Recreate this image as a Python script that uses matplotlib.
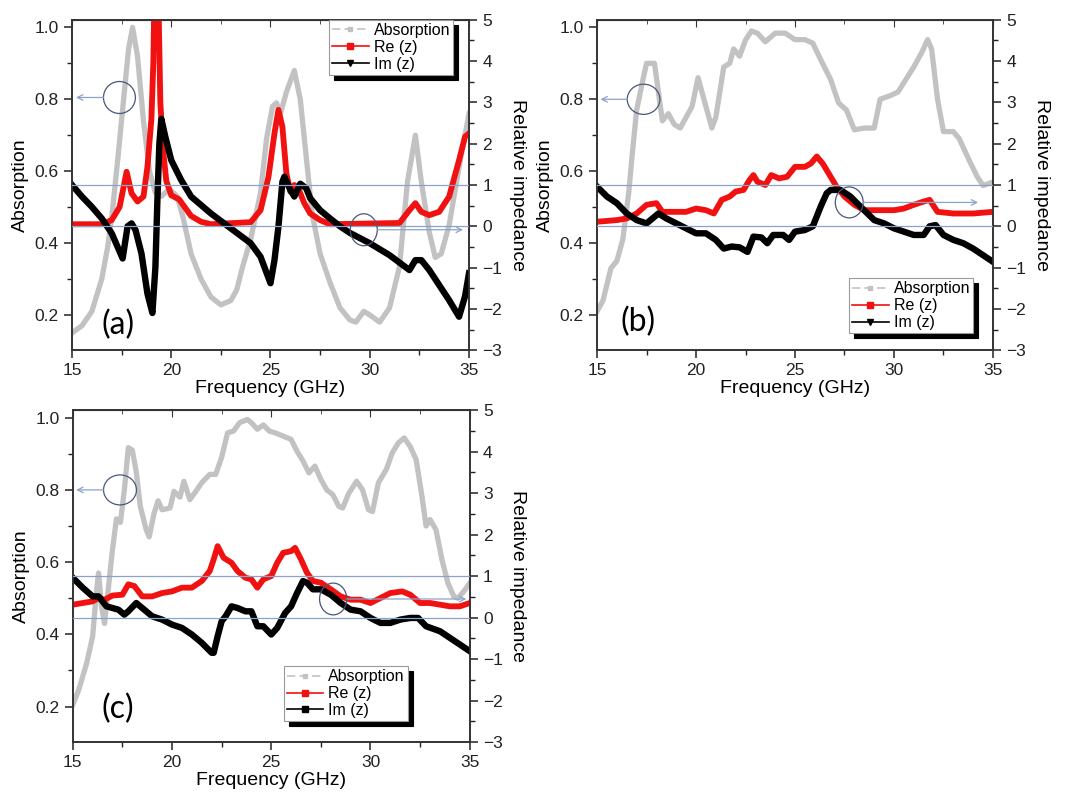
import matplotlib
matplotlib.use("Agg")
import matplotlib.pyplot as plt
from matplotlib.lines import Line2D
from matplotlib.patches import Ellipse
from matplotlib.ticker import MultipleLocator

plt.rcParams['font.family'] = ['Liberation Sans', 'DejaVu Sans']

# ---- panel (a) ----
fa_abs = [15.0, 15.5, 16.0, 16.5, 16.8, 17.0, 17.3, 17.6, 17.85, 18.05, 18.3, 18.6, 18.9, 19.2,
          19.5, 19.9, 20.3, 20.6, 21.0, 21.5, 22.0, 22.5, 23.0, 23.3, 23.6, 24.0, 24.5, 24.8,
          25.1, 25.3, 25.5, 25.8, 26.2, 26.5, 26.8, 27.1, 27.5, 28.0, 28.5, 29.0, 29.3, 29.7,
          30.0, 30.5, 31.0, 31.5, 31.9, 32.3, 32.6, 33.0, 33.3, 33.6, 34.0, 34.5, 35.0]
a_abs = [0.15, 0.17, 0.21, 0.30, 0.39, 0.47, 0.63, 0.80, 0.94, 1.0, 0.92, 0.74, 0.60, 0.54,
         0.53, 0.55, 0.53, 0.47, 0.37, 0.30, 0.25, 0.228, 0.24, 0.27, 0.335, 0.41, 0.54, 0.69,
         0.78, 0.79, 0.76, 0.82, 0.88, 0.80, 0.64, 0.48, 0.37, 0.29, 0.22, 0.186, 0.18, 0.21,
         0.20, 0.18, 0.22, 0.335, 0.57, 0.70, 0.57, 0.43, 0.36, 0.37, 0.45, 0.61, 0.76]

fa_re = [15.0, 16.5, 17.0, 17.4, 17.75, 18.0, 18.3, 18.6, 18.8, 19.0, 19.1, 19.15, 19.35, 19.45,
         19.6, 19.75, 20.0, 20.4, 20.7, 21.0, 21.5, 22.0, 24.0, 24.5, 24.9, 25.2, 25.4, 25.6,
         25.8, 26.0, 26.2, 26.4, 26.7, 27.0, 27.5, 28.0, 31.5, 32.0, 32.3, 32.6, 33.0, 33.5,
         34.0, 34.5, 34.8, 35.0]
a_re = [0.05, 0.05, 0.15, 0.47, 1.32, 0.8, 0.6, 0.72, 1.44, 2.6, 4.0, 5.6, 5.6, 3.0,
        1.8, 1.1, 0.75, 0.65, 0.45, 0.25, 0.11, 0.05, 0.1, 0.39, 1.2, 2.25, 2.82, 2.41,
        1.28, 0.84, 1.0, 0.92, 0.56, 0.31, 0.15, 0.05, 0.08, 0.39, 0.56, 0.35, 0.27, 0.35,
        0.72, 1.6, 2.17, 2.25]

fa_im = [15.0, 15.5, 16.0, 16.5, 17.0, 17.55, 17.8, 18.0, 18.2, 18.5, 18.8, 19.05, 19.2, 19.3,
         19.4, 19.5, 19.7, 20.0, 20.5, 21.0, 22.0, 23.0, 24.0, 24.5, 25.0, 25.2, 25.4, 25.6,
         25.7, 26.0, 26.2, 26.5, 26.8, 27.0, 27.5, 28.0, 28.5, 29.0, 30.0, 31.0, 32.0, 32.3,
         32.6, 33.0, 34.0, 34.5, 34.8, 35.0]
a_im = [1.0, 0.72, 0.47, 0.19, -0.17, -0.78, 0.0, 0.07, -0.09, -0.66, -1.63, -2.1, -1.0, 0.6,
        2.0, 2.6, 2.17, 1.6, 1.12, 0.72, 0.31, -0.05, -0.41, -0.74, -1.38, -0.82, -0.01, 1.08,
        1.2, 0.88, 0.72, 1.03, 0.92, 0.68, 0.39, 0.19, 0.0, -0.16, -0.41, -0.70, -1.06, -0.82,
        -0.82, -1.06, -1.79, -2.19, -1.7, -1.14]

# ---- panel (b) ----
fb_abs = [15.0, 15.3, 15.7, 16.0, 16.3, 16.6, 16.8, 17.0, 17.3, 17.5, 17.9, 18.1, 18.3, 18.6,
          18.9, 19.2, 19.5, 19.8, 20.1, 20.4, 20.8, 21.0, 21.4, 21.7, 21.9, 22.2, 22.5, 22.8,
          23.1, 23.5, 24.0, 24.5, 25.0, 25.5, 25.9, 26.3, 26.8, 27.2, 27.6, 28.0, 28.5, 29.0,
          29.3, 29.8, 30.2, 30.6, 31.0, 31.4, 31.7, 31.9, 32.2, 32.5, 33.0, 33.3, 33.8, 34.2,
          34.5, 35.0]
b_abs = [0.21, 0.24, 0.33, 0.35, 0.41, 0.54, 0.66, 0.77, 0.85, 0.90, 0.90, 0.82, 0.74, 0.76,
         0.73, 0.72, 0.75, 0.78, 0.86, 0.80, 0.72, 0.75, 0.89, 0.90, 0.94, 0.92, 0.965, 0.99,
         0.984, 0.96, 0.984, 0.984, 0.966, 0.966, 0.956, 0.91, 0.855, 0.79, 0.77, 0.715, 0.72, 0.72,
         0.80, 0.81, 0.82, 0.855, 0.89, 0.93, 0.966, 0.94, 0.80, 0.71, 0.71, 0.69, 0.63, 0.585,
         0.56, 0.57]

fb_re = [15.0, 16.0, 16.5, 17.0, 17.5, 18.0, 18.3, 19.0, 19.5, 20.0, 20.5, 20.9, 21.3, 21.7,
         22.0, 22.4, 22.7, 22.9, 23.1, 23.5, 23.8, 24.2, 24.6, 25.0, 25.5, 25.8, 26.1, 26.4,
         26.8, 27.1, 27.5, 28.0, 28.5, 29.0, 30.0, 30.5, 31.0, 31.5, 31.8, 32.2, 33.0, 34.0, 35.0]
b_re = [0.11, 0.15, 0.19, 0.31, 0.52, 0.56, 0.35, 0.35, 0.35, 0.43, 0.39, 0.31, 0.64, 0.72,
        0.84, 0.88, 1.12, 1.24, 1.08, 1.0, 1.24, 1.16, 1.2, 1.44, 1.44, 1.52, 1.69, 1.52,
        1.2, 0.96, 0.72, 0.52, 0.39, 0.39, 0.39, 0.43, 0.52, 0.6, 0.64, 0.35, 0.31, 0.31, 0.35]

fb_im = [15.0, 15.5, 16.0, 16.5, 17.0, 17.5, 17.8, 18.1, 18.5, 19.0, 19.5, 20.0, 20.5, 21.0,
         21.4, 21.8, 22.2, 22.6, 22.9, 23.3, 23.6, 23.9, 24.4, 24.7, 25.0, 25.5, 25.9, 26.3,
         26.6, 26.8, 27.3, 27.8, 28.3, 29.0, 29.5, 30.0, 30.5, 31.0, 31.5, 31.8, 32.1, 32.5,
         33.0, 33.5, 34.0, 34.5, 35.0]
b_im = [0.96, 0.72, 0.56, 0.31, 0.15, 0.07, 0.19, 0.31, 0.19, 0.07, -0.05, -0.17, -0.17, -0.33,
        -0.54, -0.49, -0.51, -0.62, -0.25, -0.27, -0.41, -0.21, -0.21, -0.33, -0.13, -0.09, 0.0, 0.48,
        0.8, 0.88, 0.88, 0.72, 0.48, 0.15, 0.07, -0.05, -0.13, -0.21, -0.21, 0.0, 0.03, -0.21,
        -0.33, -0.41, -0.54, -0.70, -0.86]

# ---- panel (c) ----
fc_abs = [15.0, 15.3, 15.7, 16.0, 16.2, 16.3, 16.45, 16.6, 16.75, 17.0, 17.2, 17.4, 17.6, 17.8,
          18.0, 18.2, 18.4, 18.7, 18.85, 19.1, 19.3, 19.5, 19.9, 20.1, 20.4, 20.6, 20.9, 21.2,
          21.5, 21.9, 22.2, 22.5, 22.8, 23.1, 23.4, 23.8, 24.0, 24.3, 24.6, 24.9, 25.2, 25.6,
          26.0, 26.3, 26.6, 26.9, 27.2, 27.5, 27.8, 28.1, 28.4, 28.6, 28.9, 29.3, 29.6, 29.9,
          30.1, 30.4, 30.8, 31.1, 31.4, 31.7, 32.0, 32.3, 32.6, 32.8, 33.0, 33.3, 33.6, 33.9,
          34.2, 34.4, 34.7, 35.0]
c_abs = [0.205, 0.246, 0.32, 0.394, 0.52, 0.57, 0.477, 0.43, 0.505, 0.634, 0.72, 0.71, 0.80, 0.917,
         0.91, 0.85, 0.755, 0.69, 0.67, 0.736, 0.77, 0.745, 0.75, 0.796, 0.78, 0.824, 0.773, 0.796,
         0.82, 0.843, 0.843, 0.89, 0.958, 0.963, 0.986, 0.995, 0.986, 0.968, 0.98, 0.963, 0.958, 0.949,
         0.94, 0.907, 0.88, 0.847, 0.866, 0.829, 0.80, 0.787, 0.755, 0.75, 0.79, 0.824, 0.80, 0.745,
         0.74, 0.82, 0.857, 0.903, 0.93, 0.944, 0.92, 0.884, 0.78, 0.70, 0.718, 0.69, 0.607, 0.542,
         0.505, 0.50, 0.519, 0.542]

fc_re = [15.0, 15.5, 16.0, 16.3, 16.6, 17.0, 17.5, 17.8, 18.1, 18.5, 19.0, 19.5, 20.0, 20.5,
         21.0, 21.5, 21.9, 22.1, 22.3, 22.6, 23.0, 23.3, 23.7, 24.0, 24.3, 24.6, 25.0, 25.3,
         25.6, 26.0, 26.2, 26.5, 26.8, 27.1, 27.5, 28.0, 28.5, 29.0, 29.5, 30.0, 30.5, 31.0,
         31.6, 32.0, 32.5, 33.0, 34.0, 34.5, 35.0]
c_re = [0.31, 0.35, 0.39, 0.47, 0.43, 0.53, 0.55, 0.80, 0.76, 0.51, 0.51, 0.59, 0.63, 0.72,
        0.72, 0.88, 1.12, 1.40, 1.72, 1.44, 1.32, 1.12, 0.96, 0.92, 0.72, 0.92, 1.0, 1.32,
        1.56, 1.60, 1.68, 1.40, 1.08, 0.88, 0.84, 0.68, 0.51, 0.43, 0.43, 0.35, 0.47, 0.59,
        0.63, 0.55, 0.35, 0.35, 0.27, 0.27, 0.35]

fc_im = [15.0, 15.5, 16.0, 16.3, 16.7, 17.0, 17.3, 17.6, 17.8, 18.2, 18.6, 19.0, 19.5, 20.0,
         20.5, 21.0, 21.5, 22.0, 22.1, 22.3, 22.5, 22.7, 23.0, 23.3, 23.7, 24.0, 24.3, 24.6,
         25.0, 25.3, 25.7, 26.0, 26.3, 26.6, 26.8, 27.1, 27.5, 28.0, 28.5, 29.0, 29.5, 30.0,
         30.5, 31.0, 31.5, 32.0, 32.4, 32.8, 33.5, 34.0, 34.5, 35.0]
c_im = [0.96, 0.72, 0.51, 0.51, 0.27, 0.23, 0.19, 0.07, 0.15, 0.35, 0.19, 0.03, -0.05, -0.17,
        -0.25, -0.41, -0.61, -0.85, -0.85, -0.45, -0.09, 0.03, 0.27, 0.23, 0.15, 0.15, -0.21, -0.21,
        -0.41, -0.25, 0.11, 0.27, 0.59, 0.88, 0.84, 0.68, 0.68, 0.55, 0.35, 0.19, 0.15, -0.01,
        -0.13, -0.13, -0.05, -0.01, -0.01, -0.21, -0.33, -0.49, -0.65, -0.81]

GRAY = '#c2c2c2'
RED = '#f21111'
BLUE = '#8aa4c8'
OVAL = '#4a5778'


def panel(fig, rect, tag, tag_xy, abs_f, abs_v, re_f, re_v, im_f, im_v, im_marker, leg_xy, ovals):
    ax = fig.add_axes(rect)
    ax2 = ax.twinx()
    ax.plot(abs_f, abs_v, color=GRAY, lw=3.8, solid_joinstyle='round')
    ax2.plot(re_f, re_v, color=RED, lw=4.2, solid_joinstyle='round')
    ax2.plot(im_f, im_v, color='black', lw=4.6, solid_joinstyle='round')
    ax2.axhline(1, color=BLUE, lw=0.9, zorder=5)
    ax2.axhline(0, color=BLUE, lw=0.9, zorder=5)

    ax.set_xlim(15, 35)
    ax.set_ylim(0.102, 1.021)
    ax2.set_ylim(-3, 5)

    ax.xaxis.set_major_locator(MultipleLocator(5))
    ax.xaxis.set_minor_locator(MultipleLocator(2.5))
    ax.yaxis.set_major_locator(MultipleLocator(0.2))
    ax.yaxis.set_minor_locator(MultipleLocator(0.1))
    ax2.yaxis.set_major_locator(MultipleLocator(1))
    ax2.yaxis.set_minor_locator(MultipleLocator(0.5))
    ax.yaxis.set_major_formatter(plt.FuncFormatter(lambda v, p: f'{v:.1f}'))

    for a in (ax, ax2):
        a.tick_params(which='major', direction='out', length=6, width=1.1,
                      labelsize=12.5, colors='#222222')
        a.tick_params(which='minor', direction='out', length=3.5, width=1.0, colors='#222222')
        for s in a.spines.values():
            s.set_color('#333333')
            s.set_linewidth(1.2)

    top = ax.secondary_xaxis('top')
    top.xaxis.set_major_locator(MultipleLocator(5))
    top.xaxis.set_minor_locator(MultipleLocator(2.5))
    top.tick_params(which='both', direction='in', labeltop=False, colors='#333333')
    top.tick_params(which='major', length=5)
    top.tick_params(which='minor', length=3)

    ax.set_xlabel('Frequency (GHz)', fontsize=14, labelpad=1)
    ax.set_ylabel('Absorption', fontsize=14, labelpad=4)
    ax2.set_ylabel('Relative impedance', fontsize=14, rotation=270, labelpad=17)

    ax.text(tag_xy[0], tag_xy[1], tag, transform=ax.transAxes, ha='center', va='center',
            fontsize=23, family=['Lato', 'DejaVu Sans'])

    for cx, cy, w, h, tip in ovals:
        ax2.add_patch(Ellipse((cx, cy), w, h, transform=ax.transData, fill=False,
                              edgecolor=OVAL, lw=0.9, zorder=6))
        start = cx - w / 2 if tip < cx else cx + w / 2
        ax2.annotate('', xy=(tip, cy), xytext=(start, cy), xycoords=ax.transData,
                     textcoords=ax.transData,
                     arrowprops=dict(arrowstyle='->', color=BLUE, lw=0.9,
                                     shrinkA=0, shrinkB=0), zorder=6)

    handles = [
        Line2D([], [], color=GRAY, lw=1.2, ls=(0, (5, 2.5)), marker='s', ms=3.5),
        Line2D([], [], color=RED, lw=1.2, marker='s', ms=4),
        Line2D([], [], color='black', lw=1.2, marker=im_marker, ms=5),
    ]
    leg = ax2.legend(handles, ['Absorption', 'Re (z)', 'Im (z)'], loc='upper left',
                     bbox_to_anchor=leg_xy, fontsize=11.5, frameon=True, fancybox=False,
                     edgecolor='#9a9a9a', framealpha=1, borderaxespad=0,
                     borderpad=0.2, labelspacing=0.12, handlelength=2.3, handletextpad=0.3,
                     shadow={'color': 'black', 'alpha': 1, 'ox': 3.6, 'oy': -3.6})
    leg.get_frame().set_linewidth(0.8)
    leg.set_zorder(10)
    return ax, ax2


fig = plt.figure(figsize=(10.7, 7.94), dpi=100)

panel(fig, [0.0673, 0.559, 0.371, 0.416], '(a)', (0.116, 0.075),
      fa_abs, a_abs, fa_re, a_re, fa_im, a_im, 'v', (0.647, 1.0),
      [(17.39, 0.805, 1.61, 0.089, 15.2), (29.7, 0.437, 1.36, 0.089, 34.7)])

panel(fig, [0.558, 0.559, 0.370, 0.416], '(b)', (0.104, 0.085),
      fb_abs, b_abs, fb_re, b_re, fb_im, b_im, 'v', (0.636, 0.218),
      [(17.35, 0.80, 1.65, 0.084, 15.17), (27.74, 0.513, 1.41, 0.086, 34.25)])

panel(fig, [0.068, 0.0655, 0.371, 0.418], '(c)', (0.113, 0.10),
      fc_abs, c_abs, fc_re, c_re, fc_im, c_im, 's', (0.531, 0.229),
      [(17.38, 0.80, 1.66, 0.083, 15.17), (28.12, 0.498, 1.37, 0.088, 34.83)])

fig.savefig('out.png', dpi=100, facecolor='white')
